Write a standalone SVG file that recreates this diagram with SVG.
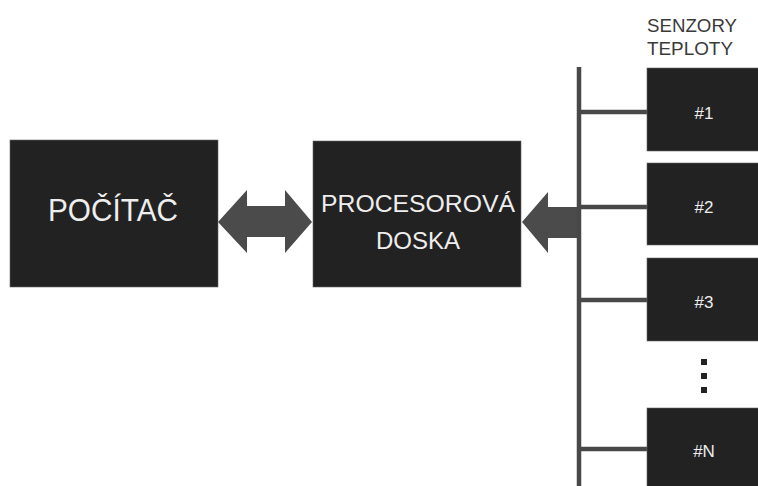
<svg xmlns="http://www.w3.org/2000/svg" width="758" height="486" viewBox="0 0 758 486">
<style>
.box{fill:#222;stroke:#666;stroke-width:0.6}
.lbl{fill:#eee;font-family:"Liberation Sans",Arial,sans-serif;text-anchor:middle}
.bus{stroke:#484848;stroke-width:4.5;fill:none}
.arr{fill:#4b4b4b}
.hdr{fill:#3a3a3a;font-family:"Liberation Sans",Arial,sans-serif;font-size:18px}
</style>
<rect width="758" height="486" fill="#fff"/>
<g id="connectors">
<path class="arr" d="M218,222 L247,190 L247,206 L285,206 L285,190 L312,222 L285,253 L285,237 L247,237 L247,253 Z"/>
<path class="arr" d="M522,222 L548,192 L548,207 L579,207 L579,238 L548,238 L548,253 Z"/>
<line class="bus" x1="579" y1="67" x2="579" y2="486"/>
<line class="bus" x1="579" y1="112" x2="647" y2="112"/>
<line class="bus" x1="579" y1="207" x2="647" y2="207"/>
<line class="bus" x1="579" y1="300" x2="647" y2="300"/>
<line class="bus" x1="579" y1="449" x2="647" y2="449"/>
</g>
<g id="pocitac">
<rect class="box" x="10" y="140" width="208" height="147"/>
<text class="lbl" x="113" y="221" font-size="31" textLength="130" lengthAdjust="spacingAndGlyphs">POČÍTAČ</text>
</g>
<g id="procesorova-doska">
<rect class="box" x="313" y="141" width="208" height="146"/>
<text class="lbl" x="418" y="212" font-size="24" textLength="194" lengthAdjust="spacingAndGlyphs">PROCESOROVÁ</text>
<text class="lbl" x="418" y="249" font-size="24">DOSKA</text>
</g>
<g id="senzory-label">
<text class="hdr" x="647" y="32" textLength="90" lengthAdjust="spacingAndGlyphs">SENZORY</text>
<text class="hdr" x="647" y="55" textLength="86" lengthAdjust="spacingAndGlyphs">TEPLOTY</text>
</g>
<g id="sensor1">
<rect class="box" x="647" y="68" width="115" height="83"/>
<text class="lbl" x="704" y="119" font-size="17">#1</text>
</g>
<g id="sensor2">
<rect class="box" x="647" y="163" width="115" height="82"/>
<text class="lbl" x="704" y="213" font-size="17">#2</text>
</g>
<g id="sensor3">
<rect class="box" x="647" y="258" width="115" height="83"/>
<text class="lbl" x="704" y="308" font-size="17">#3</text>
</g>
<g id="dots" fill="#222">
<rect x="701" y="359" width="6" height="6"/>
<rect x="701" y="373" width="6" height="6"/>
<rect x="701" y="387" width="6" height="6"/>
</g>
<g id="sensorN">
<rect class="box" x="647" y="408" width="115" height="90"/>
<text class="lbl" x="704" y="457" font-size="17">#N</text>
</g>
</svg>
